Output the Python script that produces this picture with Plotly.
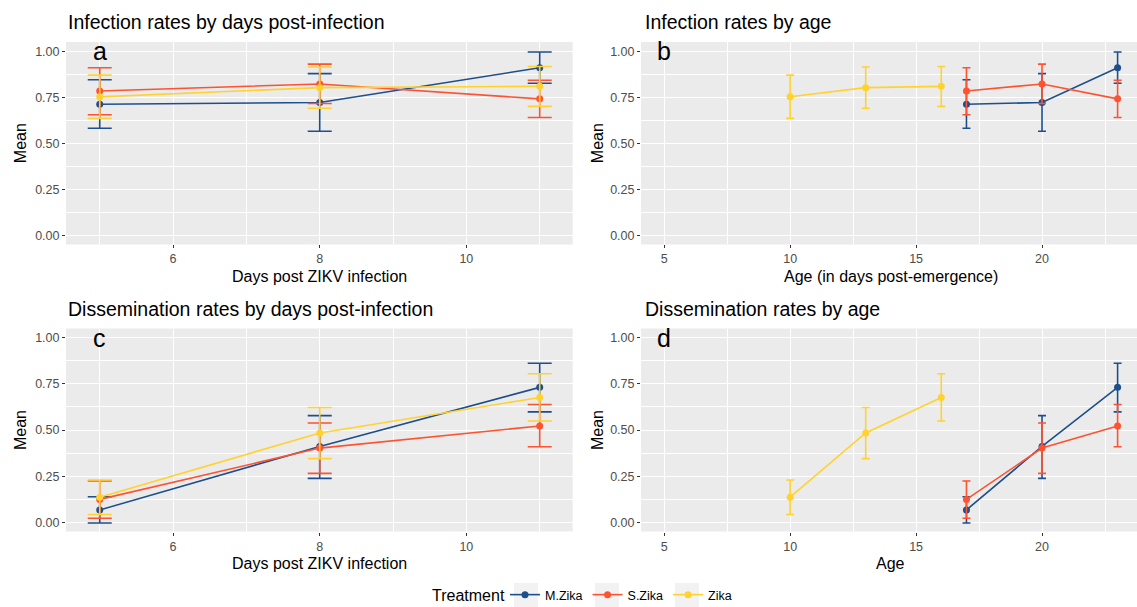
import plotly.graph_objects as go

# ---------------- data ----------------
treatments = ["M.Zika", "S.Zika", "Zika"]
colors = {"M.Zika": "#1D4F8C", "S.Zika": "#FF5230", "Zika": "#FFD22E"}

days = [5, 8, 11]
age_zika = [10, 13, 16]
age_mixed = [17, 20, 23]

inf_mean = {"M.Zika": [0.712, 0.721, 0.910], "S.Zika": [0.784, 0.822, 0.741], "Zika": [0.752, 0.802, 0.809]}
inf_lo = {"M.Zika": [0.581, 0.565, 0.826], "S.Zika": [0.655, 0.716, 0.640], "Zika": [0.635, 0.690, 0.700]}
inf_hi = {"M.Zika": [0.845, 0.878, 0.996], "S.Zika": [0.910, 0.930, 0.842], "Zika": [0.870, 0.914, 0.917]}

dis_mean = {"M.Zika": [0.067, 0.411, 0.731], "S.Zika": [0.124, 0.402, 0.522], "Zika": [0.136, 0.484, 0.676]}
dis_lo = {"M.Zika": [-0.004, 0.238, 0.598], "S.Zika": [0.022, 0.265, 0.409], "Zika": [0.042, 0.345, 0.549]}
dis_hi = {"M.Zika": [0.138, 0.578, 0.862], "S.Zika": [0.224, 0.538, 0.638], "Zika": [0.229, 0.622, 0.805]}

age_x = {"M.Zika": age_mixed, "S.Zika": age_mixed, "Zika": age_zika}

panel_titles = ["Infection rates by days post-infection", "Infection rates by age",
                "Dissemination rates by days post-infection", "Dissemination rates by age"]
panel_letters = ["a", "b", "c", "d"]
x_titles = ["Days post ZIKV infection", "Age (in days post-emergence)", "Days post ZIKV infection", "Age"]
y_title = "Mean"
legend_title = "Treatment"
y_ticks = [0, 0.25, 0.5, 0.75, 1.0]
y_ticktext = ["0.00", "0.25", "0.50", "0.75", "1.00"]

# ---------------- layout geometry ----------------
W, H = 1137, 607
FONT = "Liberation Sans, Arial, sans-serif"
left_x = (66, 572.7)
right_x = (641, 1137)
top_y = (42, 244.4)
bot_y = (328.5, 531.5)

def xd(a, b):
    return [a / W, b / W]

def yd(t, b):
    return [1 - b / H, 1 - t / H]

fig = go.Figure()

panels = [
    dict(xs="x", ys="y", xdom=xd(*left_x), ydom=yd(*top_y), mode="days", m=inf_mean, lo=inf_lo, hi=inf_hi),
    dict(xs="x2", ys="y2", xdom=xd(*right_x), ydom=yd(*top_y), mode="age", m=inf_mean, lo=inf_lo, hi=inf_hi),
    dict(xs="x3", ys="y3", xdom=xd(*left_x), ydom=yd(*bot_y), mode="days", m=dis_mean, lo=dis_lo, hi=dis_hi),
    dict(xs="x4", ys="y4", xdom=xd(*right_x), ydom=yd(*bot_y), mode="age", m=dis_mean, lo=dis_lo, hi=dis_hi),
]

for i, p in enumerate(panels):
    for t in treatments:
        xs = days if p["mode"] == "days" else age_x[t]
        mean = p["m"][t]
        up = [h - m for h, m in zip(p["hi"][t], mean)]
        dn = [m - l for m, l in zip(mean, p["lo"][t])]
        fig.add_trace(go.Scatter(
            x=xs, y=mean, mode="lines+markers", name=t, legendgroup=t,
            showlegend=(i == 0), xaxis=p["xs"], yaxis=p["ys"],
            line=dict(color=colors[t], width=1.6),
            marker=dict(color=colors[t], size=7),
            error_y=dict(type="data", symmetric=False, array=up, arrayminus=dn,
                         color=colors[t], thickness=1.6,
                         width=12 if p["mode"] == "days" else 4),
        ))

axis_common = dict(showline=False, zeroline=False, showgrid=True, gridcolor="white", gridwidth=1.1,
                   ticks="outside", ticklen=3, tickcolor="#333333", tickwidth=1,
                   tickfont=dict(family=FONT, size=12.5, color="#4D4D4D"))

layout_axes = {}
for i, p in enumerate(panels):
    suffix = "" if i == 0 else str(i + 1)
    if p["mode"] == "days":
        xr = [4.54, 11.45]
        xtick = dict(tickmode="array", tickvals=[6, 8, 10], ticktext=["6", "8", "10"],
                     minor=dict(tickmode="array", tickvals=[5, 7, 9, 11], showgrid=True, gridcolor="white", gridwidth=0.5, ticks=""))
    else:
        xr = [4.08, 23.77]
        xtick = dict(tickmode="array", tickvals=[5, 10, 15, 20], ticktext=["5", "10", "15", "20"],
                     minor=dict(tickmode="array", tickvals=[7.5, 12.5, 17.5, 22.5], showgrid=True, gridcolor="white", gridwidth=0.5, ticks=""))
    layout_axes["xaxis" + suffix] = dict(axis_common, domain=p["xdom"], range=xr, anchor="y" + suffix,
                                          automargin=False, **xtick)
    layout_axes["yaxis" + suffix] = dict(axis_common, domain=p["ydom"], range=[-0.05, 1.05], anchor="x" + suffix,
                                          automargin=False,
                                          tickmode="array", tickvals=y_ticks, ticktext=y_ticktext,
                                          minor=dict(tickmode="array", tickvals=[0.125, 0.375, 0.625, 0.875],
                                                     showgrid=True, gridcolor="white", gridwidth=0.5, ticks=""))

fig.update_layout(**layout_axes)

# panel backgrounds
shapes = []
for p in panels:
    shapes.append(dict(type="rect", xref="paper", yref="paper", layer="below",
                       x0=p["xdom"][0], x1=p["xdom"][1], y0=p["ydom"][0], y1=p["ydom"][1],
                       fillcolor="#EBEBEB", line=dict(width=0)))
# legend key backgrounds (ggplot-style grey key boxes)
for kx in (514, 595, 675):
    shapes.append(dict(type="rect", xref="paper", yref="paper", layer="below",
                       x0=kx / W, x1=(kx + 24) / W, y0=0, y1=1 - 583 / H,
                       fillcolor="#F2F2F2", line=dict(width=0)))

annotations = []
title_pos = [(66, 22), (643, 22), (66, 309), (643, 309)]
for (tx, ty), txt in zip(title_pos, panel_titles):
    annotations.append(dict(text=txt, x=tx / W, y=1 - ty / H, xref="paper", yref="paper",
                            xanchor="left", yanchor="middle", showarrow=False,
                            font=dict(family=FONT, size=19.5, color="black")))

for i, p in enumerate(panels):
    suffix = "" if i == 0 else str(i + 1)
    cx = (p["xdom"][0] + p["xdom"][1]) / 2
    if i == 1 or i == 3:
        cx = (641 + 1141) / 2 / W
    ax_y = 276 if i < 2 else 563
    annotations.append(dict(text=x_titles[i], x=cx, y=1 - ax_y / H, xref="paper", yref="paper",
                            xanchor="center", yanchor="middle", showarrow=False,
                            font=dict(family=FONT, size=16, color="black")))
    ylab_x = 20 if i % 2 == 0 else 597
    cy = (p["ydom"][0] + p["ydom"][1]) / 2
    annotations.append(dict(text=y_title, x=ylab_x / W, y=cy, xref="paper", yref="paper",
                            xanchor="center", yanchor="middle", showarrow=False, textangle=-90,
                            font=dict(family=FONT, size=16, color="black")))
    annotations.append(dict(text=panel_letters[i], x=5, y=1.0, xref="x" + suffix, yref="y" + suffix,
                            xanchor="center", yanchor="middle", showarrow=False,
                            font=dict(family=FONT, size=25, color="black")))

annotations.append(dict(text=legend_title, x=430 / W, y=1 - 595 / H, xref="paper", yref="paper",
                        xanchor="left", yanchor="middle", showarrow=False,
                        font=dict(family=FONT, size=16, color="black")))

fig.update_layout(
    width=W, height=H,
    margin=dict(l=0, r=0, t=0, b=0, autoexpand=False),
    paper_bgcolor="white", plot_bgcolor="rgba(0,0,0,0)",
    shapes=shapes, annotations=annotations,
    legend=dict(orientation="h", x=505 / W, y=1 - 595 / H, xanchor="left", yanchor="middle",
                font=dict(family=FONT, size=12.5, color="black"), bgcolor="rgba(0,0,0,0)",
                itemwidth=30, tracegroupgap=0),
    font=dict(family=FONT),
)

fig.write_html("out.html")
